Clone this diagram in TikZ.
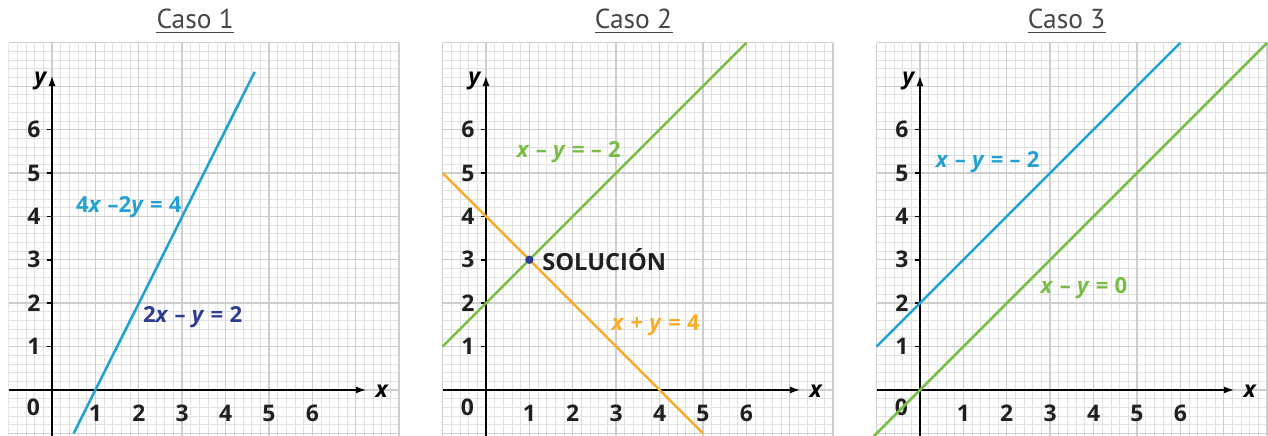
\documentclass[tikz,border=0pt]{standalone}
\usepackage{fontspec}
\setmainfont{PT Sans}
\newfontfamily\labfont{Open Sans}
\usetikzlibrary{arrows.meta}
\definecolor{cyanl}{RGB}{35,162,210}
\definecolor{navyl}{RGB}{45,60,145}
\definecolor{greenl}{RGB}{120,190,70}
\definecolor{orangel}{RGB}{250,172,40}
\definecolor{minorg}{RGB}{226,226,226}
\definecolor{majorg}{RGB}{206,206,206}
\definecolor{titlec}{RGB}{70,70,70}
\newcommand{\gsp}{\hspace{0.28em}}
\tikzset{
  minorgrid/.style={draw=minorg, line width=0.5pt},
  majorgrid/.style={draw=majorg, line width=0.9pt},
  axisline/.style={draw=black, line width=1.3pt},
  axisarrow/.style={axisline, -{Latex[length=7pt,width=4.6pt]}},
  tickmark/.style={draw=black, line width=1pt},
  ticklab/.style={inner sep=0pt, text=black!88, font=\labfont\fontsize{15}{17}\selectfont\bfseries},
  axlab/.style={inner sep=0pt, font=\labfont\fontsize{15}{17}\selectfont\bfseries\itshape},
  titlelab/.style={inner sep=0pt, anchor=base, text=titlec, font=\fontsize{18}{20}\selectfont},
  eqlab/.style={inner sep=0pt, font=\labfont\fontsize{14.5}{16}\selectfont\bfseries},
  graphline/.style={line width=1.7pt},
}
\newcommand{\mypanel}[4]{%
\begin{scope}[xshift=#1cm]
\draw[minorgrid,step=0.2] (-1,-1.06) grid (8,8);
\draw[majorgrid,step=1] (-1,-1.06) grid (8,8);
\coordinate (#3xs) at (-1,0);
\coordinate (#3xe) at (7.25,0);
\coordinate (#3ys) at (0,-1.06);
\coordinate (#3ye) at (0,7.25);
\draw[axisarrow] (#3xs) -- (#3xe);
\draw[axisarrow] (#3ys) -- (#3ye);
\node[axlab] (#3xl) at (7.6,-0.02) {x};
\node[axlab] (#3yl) at (-0.27,7.12) {y};
\foreach \k in {1,...,6}{
  \coordinate (#3ta\k) at (-0.12,\k);
  \coordinate (#3tb\k) at (0,\k);
  \draw[tickmark] (#3ta\k) -- (#3tb\k);
  \node[ticklab,anchor=east] (#3y\k) at (-0.26,\k) {\k};
  \node[ticklab] (#3x\k) at (\k,-0.54) {\k};
}
\node[ticklab] (#3zero) at (-0.43,-0.41) {0};
\node[titlelab] (#3t) at (#4,8.32) {#2};
\draw[titlec, line width=0.6pt] ([yshift=-2.5pt]#3t.base west) -- ([yshift=-2.5pt]#3t.base east);
\end{scope}}
\begin{document}
\begin{tikzpicture}[x=1cm,y=1cm]
\useasboundingbox (-1.198,-1.06) rectangle (28.02,8.986);
\begin{scope}
\clip (-1,-1.06) rectangle (28.02,8.986);
\mypanel{0}{Caso 1}{a}{3.3}
\mypanel{10}{Caso 2}{b}{3.4}
\mypanel{20}{Caso 3}{c}{3.38}
\end{scope}
% Panel 1
\coordinate (p1s) at (0.5,-1);
\coordinate (p1e) at (4.67,7.33);
\draw[graphline, cyanl] (p1s) -- (p1e);
\node[eqlab, text=cyanl] (eq1a) at (1.77,4.22) {4\textit{x}\gsp–2\textit{y}\gsp=\gsp4};
\node[eqlab, text=navyl] (eq1b) at (3.24,1.68) {2\textit{x}\gsp–\gsp\textit{y}\gsp=\gsp2};
% Panel 2
\coordinate (g2s) at (9,1);
\coordinate (g2e) at (16,8);
\coordinate (o2s) at (9,5);
\coordinate (o2e) at (15,-1);
\draw[graphline, greenl] (g2s) -- (g2e);
\draw[graphline, orangel] (o2s) -- (o2e);
\node[circle, fill=navyl, inner sep=0pt, minimum size=5.5pt] (sol) at (11,3) {};
\node[eqlab, anchor=west, text=black!88, font=\labfont\fontsize{15.5}{17}\selectfont\bfseries] (soltext) at (11.29,3) {SOLUCIÓN};
\node[eqlab, text=greenl] (eq2a) at (11.91,5.49) {\textit{x}\gsp–\gsp\textit{y}\gsp=\gsp–\gsp2};
\node[eqlab, text=orangel] (eq2b) at (13.91,1.5) {\textit{x}\gsp+\gsp\textit{y}\gsp=\gsp4};
% Panel 3
\coordinate (b3s) at (19,1);
\coordinate (b3e) at (26,8);
\coordinate (g3s) at (18.94,-1.06);
\coordinate (g3e) at (28,8);
\draw[graphline, cyanl] (b3s) -- (b3e);
\draw[graphline, greenl] (g3s) -- (g3e);
\node[eqlab, text=cyanl] (eq3a) at (21.56,5.26) {\textit{x}\gsp–\gsp\textit{y}\gsp=\gsp–\gsp2};
\node[eqlab, text=greenl] (eq3b) at (23.78,2.34) {\textit{x}\gsp–\gsp\textit{y}\gsp=\gsp0};
\end{tikzpicture}
\end{document}
